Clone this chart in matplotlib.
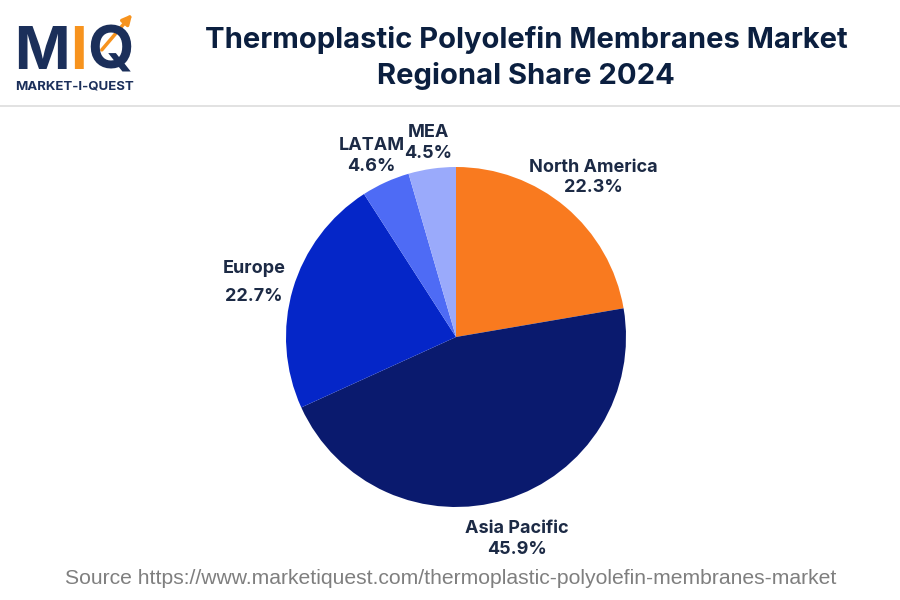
import matplotlib
matplotlib.use("Agg")
import matplotlib.pyplot as plt
import numpy as np

regions = ["North America", "Asia Pacific", "Europe", "LATAM", "MEA"]
shares = [22.3, 45.9, 22.7, 4.6, 4.5]
colors = ["#F97A1F", "#0A1A6E", "#0526C8", "#4E6BF5", "#9AAAFB"]

title = "Thermoplastic Polyolefin Membranes Market\nRegional Share 2024"
source = "Source https://www.marketiquest.com/thermoplastic-polyolefin-membranes-market"

NAVY = "#1C2A45"
FONT = ["Inter", "DejaVu Sans"]

fig = plt.figure(figsize=(9, 6), dpi=100)
fig.patch.set_facecolor("white")

# Pie axes: centre (456,337) px, radius 170 px
W, H = 900, 600
half = 200
ax = fig.add_axes([(456 - half) / W, (H - 337 - half) / H, 2 * half / W, 2 * half / H])
wedges, _ = ax.pie(shares, colors=colors, startangle=90, counterclock=False,
                   radius=1.0, wedgeprops=dict(linewidth=0))
lim = half / 170
ax.set_xlim(-lim, lim)
ax.set_ylim(-lim, lim)
ax.set_aspect("equal")
ax.axis("off")

label_r = [1.25, 1.22, 1.24, 1.20, 1.17]
label_ls = [1.3, 1.3, 1.85, 1.3, 1.3]
label_dy = [-3, -4, -5, -5, -3]  # pixel nudges
for w, name, val, r, ls, dy in zip(wedges, regions, shares, label_r, label_ls, label_dy):
    ang = np.deg2rad((w.theta1 + w.theta2) / 2)
    ax.text(r * np.cos(ang), r * np.sin(ang) + dy / 170, f"{name}\n{val}%",
            ha="center", va="center", fontsize=13, fontweight="bold", color=NAVY,
            family=FONT, linespacing=ls)

# Title
fig.text(526 / W, 1 - 58 / H, title, ha="center", va="center", fontsize=21,
         fontweight="bold", color="#0B1F3F", family=FONT, linespacing=1.4)

# Separator line
fig.add_artist(plt.Line2D([0, 1], [1 - 106 / H, 1 - 106 / H], transform=fig.transFigure,
                          color="#DDDDDD", linewidth=1.2))

# Logo
fig.text(14 / W, 1 - 69 / H, "M", ha="left", va="baseline", fontsize=43, fontweight="bold",
         color="#1B2F5A", family=FONT)
fig.text(70 / W, 1 - 69 / H, "I", ha="left", va="baseline", fontsize=43, fontweight="bold",
         color="#F7931E", family=FONT)
fig.text(87 / W, 1 - 69 / H, "Q", ha="left", va="baseline", fontsize=43, fontweight="bold",
         color="#1B2F5A", family=FONT)
fig.text(15 / W, 1 - 89 / H, "MARKET-I-QUEST", ha="left", va="baseline", fontsize=9.5,
         fontweight="bold", color="#1B2F5A", family=FONT)
fig.add_artist(matplotlib.patches.FancyArrowPatch((100 / W, 1 - 52 / H), (134 / W, 1 - 12 / H),
               transform=fig.transFigure, arrowstyle="-|>", mutation_scale=14,
               color="#F7931E", linewidth=2.5))

# Source
fig.text(451 / W, 1 - 578 / H, source, ha="center", va="center", fontsize=15.2,
         color="#7F7F7F", family=["Liberation Sans", "DejaVu Sans"])

fig.savefig("out.png", dpi=100, facecolor="white")
